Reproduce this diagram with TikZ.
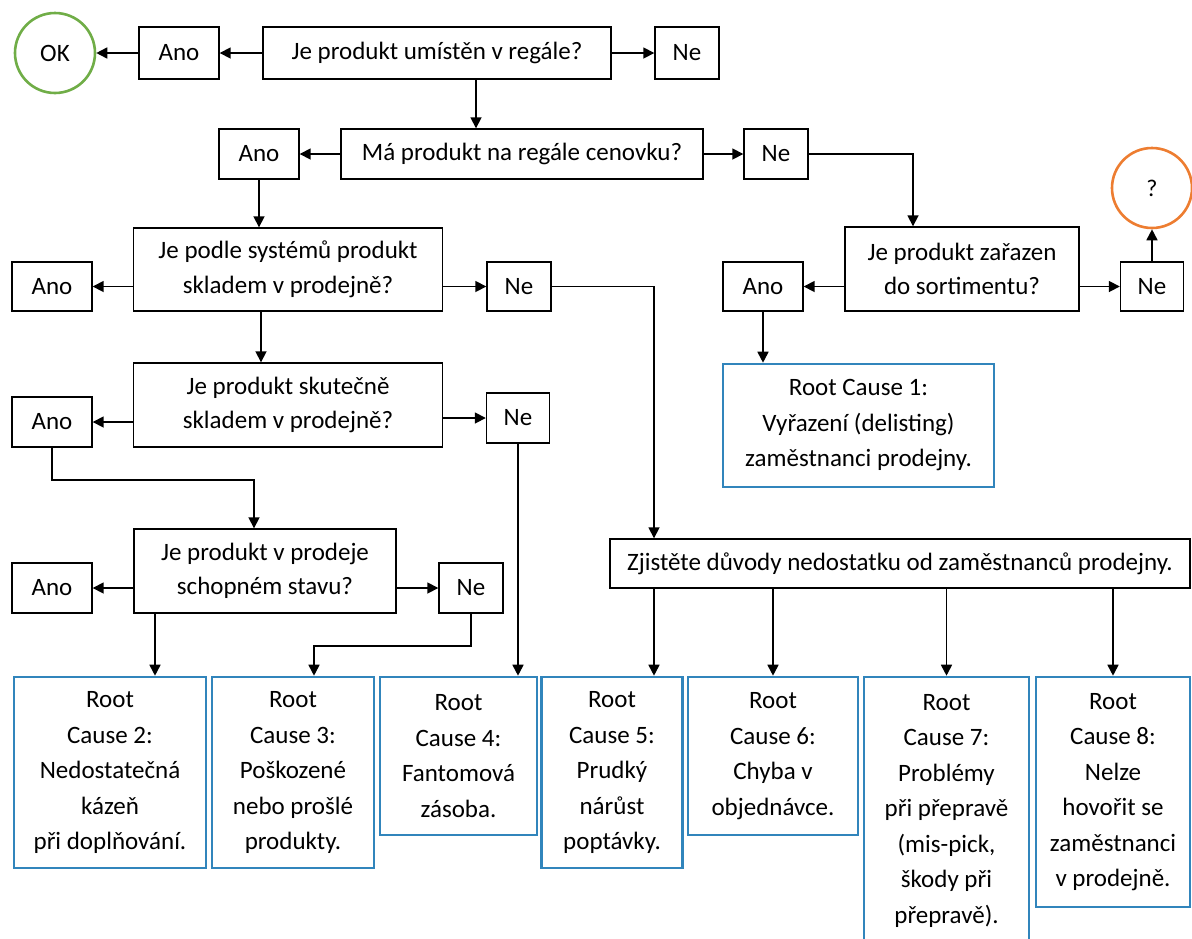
\documentclass[tikz,border=0pt]{standalone}
\usepackage{fontspec}
\setmainfont{Carlito}
\usetikzlibrary{arrows.meta}
\definecolor{okgreen}{RGB}{112,173,71}
\definecolor{qorange}{RGB}{237,125,49}
\definecolor{rcblue}{RGB}{49,133,188}
\begin{document}
\begin{tikzpicture}[x=1pt, y=-1pt,
  box/.style={draw, line width=1.4pt, inner sep=0pt, align=center, font=\fontsize{25}{34.5}\selectfont},
  cause/.style={draw=rcblue, line width=2.6pt, inner sep=0pt, align=center, font=\fontsize{25}{35.5}\selectfont},
  endpt/.style={circle, line width=2.6pt, inner sep=0pt, minimum size=80, font=\fontsize{25}{30}\selectfont},
  conn/.style={line width=1.7pt, -{Triangle[length=11pt,width=11pt]}}]
\useasboundingbox (0,0) rectangle (1192,938);

\node[endpt, draw=okgreen] (ok) at (55,53) {OK};
\node[endpt, draw=qorange, font=\fontsize{24}{28}\selectfont] (qm) at (1152,188) {?};

\node[box, minimum width=80, minimum height=52] (ano1) at (179,53) {Ano};
\node[box, minimum width=348, minimum height=52] (q1) at (437,53) {Je produkt umístěn v regále?};
\node[box, minimum width=64, minimum height=52] (ne1) at (687,53) {Ne};

\node[box, minimum width=80, minimum height=50] (ano2) at (259,154) {Ano};
\node[box, minimum width=362, minimum height=50] (q2) at (522,154) {Má produkt na regále cenovku?};
\node[box, minimum width=64, minimum height=50] (ne2) at (776,154) {Ne};

\node[box, minimum width=309, minimum height=83] (q3) at (288,269.5) {Je podle systémů produkt\\skladem v prodejně?};
\node[box, minimum width=80, minimum height=49] (ano3) at (52,286.5) {Ano};
\node[box, minimum width=64, minimum height=49] (ne3) at (519,286.5) {Ne};

\node[box, minimum width=234, minimum height=84] (q5) at (962,269) {Je produkt zařazen\\do sortimentu?};
\node[box, minimum width=80, minimum height=49] (ano5) at (763,286.5) {Ano};
\node[box, minimum width=63, minimum height=49] (ne5) at (1152,286.5) {Ne};

\node[box, minimum width=309, minimum height=84] (q4) at (288,405) {Je produkt skutečně\\skladem v prodejně?};
\node[box, minimum width=80, minimum height=50] (ano4) at (52,422) {Ano};
\node[box, minimum width=63, minimum height=50] (ne4) at (518,418) {Ne};

\node[box, minimum width=262, minimum height=84] (q6) at (265,571) {Je produkt v prodeje\\schopném stavu?};
\node[box, minimum width=80, minimum height=50] (ano6) at (52,588) {Ano};
\node[box, minimum width=64, minimum height=50] (ne6) at (471,588) {Ne};

\node[cause, minimum width=271, minimum height=123] (rc1) at (858.5,425.5) {Root Cause 1:\\Vyřazení (delisting)\\zaměstnanci prodejny.};
\node[box, minimum width=580, minimum height=49] (zj) at (900,563.5) {Zjistěte důvody nedostatku od zaměstnanců prodejny.};

\node[cause, minimum width=192, minimum height=191] (rc2) at (110,772.5) {Root\\Cause 2:\\Nedostatečná\\kázeň\\při doplňování.};
\node[cause, minimum width=162, minimum height=191] (rc3) at (293,772.5) {Root\\Cause 3:\\Poškozené\\nebo prošlé\\produkty.};
\node[cause, minimum width=157, minimum height=158] (rc4) at (458.5,756) {Root\\Cause 4:\\Fantomová\\zásoba.};
\node[cause, minimum width=141, minimum height=191] (rc5) at (612,772.5) {Root\\Cause 5:\\Prudký\\nárůst\\poptávky.};
\node[cause, minimum width=170, minimum height=158] (rc6) at (773,756) {Root\\Cause 6:\\Chyba v\\objednávce.};
\node[cause, minimum width=165, minimum height=267] (rc7) at (946.5,810.5) {Root\\Cause 7:\\Problémy\\při přepravě\\(mis-pick,\\škody při\\přepravě).};
\node[cause, minimum width=154, minimum height=230] (rc8) at (1113,792) {Root\\Cause 8:\\Nelze\\hovořit se\\zaměstnanci\\v prodejně.};

\draw[conn] (q1) -- (ano1);
\draw[conn] (ano1) -- (ok);
\draw[conn] (q1) -- (ne1);
\draw[conn] ([xshift=39pt]q1.south) -- ([xshift=-46pt]q2.north);

\draw[conn] (q2) -- (ano2);
\draw[conn] (q2) -- (ne2);
\draw[conn] (ne2.east) -| ([xshift=-49pt]q5.north);
\draw[conn] (ano2.south) -- (ano2.south |- q3.north);

\draw[conn] (ano5.east -| q5.west) -- (ano5.east);
\draw[conn] (ne5.west -| q5.east) -- (ne5.west);
\draw[conn] (ne5) -- (qm);
\draw[conn] (ano5.south) -- (ano5.south |- rc1.north);

\draw[conn] (ano3.east -| q3.west) -- (ano3.east);
\draw[conn] (ne3.west -| q3.east) -- (ne3.west);
\draw[conn] (ne3.east) -| ([xshift=-246pt]zj.north);
\draw[conn] ([xshift=-27pt]q3.south) -- ([xshift=-27pt]q4.north);

\draw[conn] (ano4.east -| q4.west) -- (ano4.east);
\draw[conn] (ne4.west -| q4.east) -- (ne4.west);
\draw[conn] (ano4.south) -- ++(0,32) -| ([xshift=-11pt]q6.north);

\draw[conn] (ano6.east -| q6.west) -- (ano6.east);
\draw[conn] (ne6.west -| q6.east) -- (ne6.west);
\draw[conn] ([xshift=-110pt]q6.south) -- ([xshift=45pt]rc2.north);
\draw[conn] (ne6.south) -- ++(0,32) -| ([xshift=21pt]rc3.north);
\draw[conn] (ne4.south) -- (ne4.south |- rc4.north);

\draw[conn] ([xshift=-246pt]zj.south) -- ([xshift=42pt]rc5.north);
\foreach \n in {6,7,8}
	\draw[conn] (zj.south -| rc\n.north) -- (rc\n.north);
\end{tikzpicture}
\end{document}
